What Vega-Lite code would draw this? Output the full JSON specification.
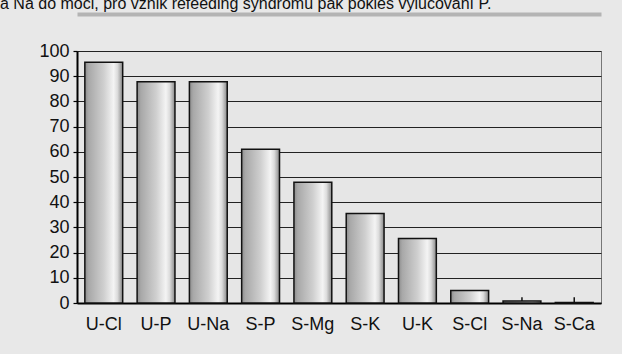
{
  "$schema": "https://vega.github.io/schema/vega-lite/v6.json",
  "autosize": {"type": "none"},
  "width": 524,
  "height": 252,
  "padding": {"left": 77, "top": 51, "right": 21, "bottom": 51},
  "background": "#e8e8e8",
  "title": {
    "text": "a Na do moči, pro vznik refeeding syndromu pak pokles vylučování P.",
    "anchor": "start",
    "frame": "group",
    "dx": -77,
    "offset": 2,
    "font": "Liberation Sans",
    "fontSize": 16,
    "fontWeight": "normal",
    "color": "#111111"
  },
  "data": {
    "values": [
      {"k": "U-Cl", "v": 95.5},
      {"k": "U-P", "v": 87.8},
      {"k": "U-Na", "v": 87.8},
      {"k": "S-P", "v": 61.0},
      {"k": "S-Mg", "v": 47.9},
      {"k": "S-K", "v": 35.5},
      {"k": "U-K", "v": 25.6},
      {"k": "S-Cl", "v": 5.0},
      {"k": "S-Na", "v": 0.8, "e": 2.3},
      {"k": "S-Ca", "v": 0.15, "e": 2.3}
    ]
  },
  "config": {
    "view": {"fill": "#e6e6e6", "stroke": "#777777", "strokeWidth": 1}
  },
  "resolve": {"axis": {"x": "independent"}},
  "encoding": {
    "y": {
      "field": "v", "type": "quantitative",
      "scale": {"domain": [0, 100], "nice": false},
      "axis": {
        "title": null, "values": [0, 10, 20, 30, 40, 50, 60, 70, 80, 90, 100],
        "labelFont": "Liberation Sans", "labelFontSize": 18, "labelColor": "#111111",
        "labelOverlap": false,
        "domainColor": "#000000", "domainWidth": 2,
        "tickColor": "#000000", "tickSize": 4, "tickWidth": 1.2, "labelPadding": 4,
        "grid": true, "gridColor": "#222222", "gridWidth": 1.2
      }
    }
  },
  "layer": [
    {
      "mark": {
        "type": "bar",
        "stroke": "#111111",
        "strokeWidth": 1.5,
        "color": {
          "gradient": "linear",
          "x1": 0, "y1": 0, "x2": 1, "y2": 0,
          "stops": [
            {"offset": 0, "color": "#8c8c8c"},
            {"offset": 0.1, "color": "#a8a8a8"},
            {"offset": 0.5, "color": "#cfcfcf"},
            {"offset": 0.76, "color": "#f4f4f4"},
            {"offset": 0.86, "color": "#dcdcdc"},
            {"offset": 1, "color": "#888888"}
          ]
        }
      },
      "encoding": {
        "x": {
          "field": "k", "type": "nominal", "sort": null,
          "scale": {"paddingInner": 0.276, "paddingOuter": 0.15},
          "axis": {
            "title": null, "labelAngle": 0, "ticks": false, "labelPadding": 12,
            "labelFont": "Liberation Sans", "labelFontSize": 18, "labelColor": "#111111",
            "domainColor": "#000000", "domainWidth": 2, "grid": false
          }
        }
      }
    },
    {
      "mark": {"type": "rule", "color": "#111111", "strokeWidth": 1.5},
      "encoding": {
        "x": {
          "field": "k", "type": "nominal", "sort": null,
          "axis": {
            "orient": "top", "title": null, "labels": false, "ticks": false, "grid": false,
            "offset": 37, "domainColor": "#b4b4b4", "domainWidth": 4
          }
        },
        "y2": {"field": "e"}
      }
    }
  ]
}
